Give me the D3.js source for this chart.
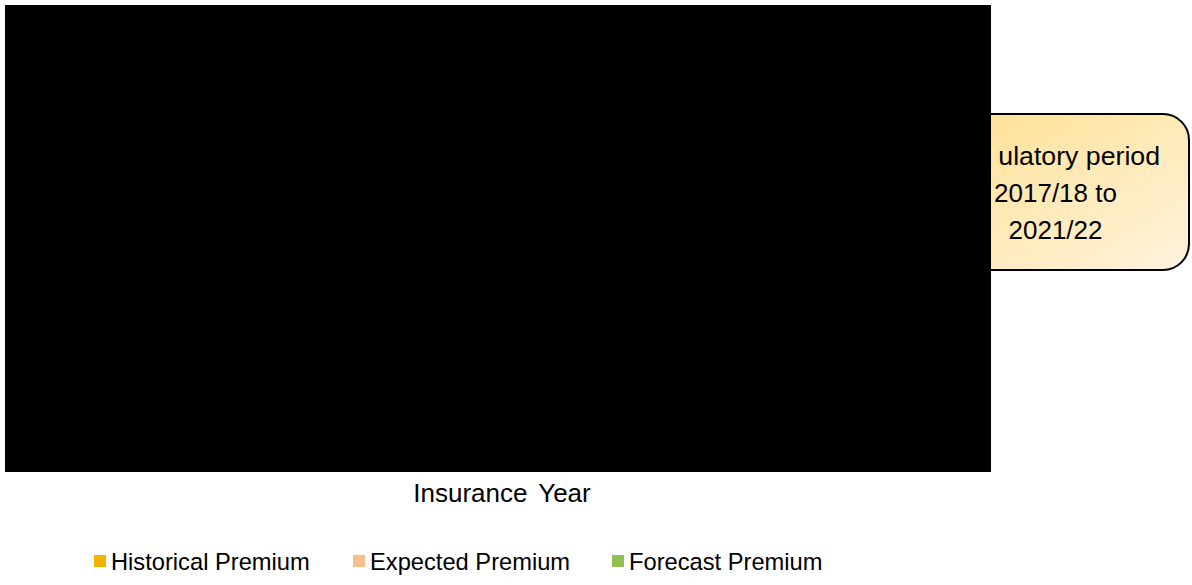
<!DOCTYPE html>
<meta charset="utf-8">
<style>
  body { margin: 0; background: #fff; }
  text { font-family: "Liberation Sans", Arial, sans-serif; fill: #000; }
</style>
<body>
<div id="chart"></div>
<script src="https://d3js.org/d3.v7.min.js"></script>
<script>
  var w = 1192, h = 585;

  // series shown in the legend
  var seriesNames = ["Historical Premium", "Expected Premium", "Forecast Premium"];
  var seriesColors = ["#f0b400", "#fbbf8f", "#92c050"];
  var axisTitle = "Insurance Year";
  var calloutHead = ["Reg", "ulatory period"];
  var calloutLines = ["2017/18 to", "2021/22"];

  var svg = d3.select("#chart").append("svg")
    .attr("width", w)
    .attr("height", h);

  var defs = svg.append("defs");
  var grad = defs.append("linearGradient")
    .attr("id", "calloutFill")
    .attr("x1", "0%").attr("y1", "0%")
    .attr("x2", "100%").attr("y2", "100%");
  grad.append("stop").attr("offset", "0%").attr("stop-color", "#ffdf8f");
  grad.append("stop").attr("offset", "100%").attr("stop-color", "#fff3de");

  // callout (sits behind the plot area)
  var callout = svg.append("g");
  callout.append("rect")
    .attr("x", 921).attr("y", 114)
    .attr("width", 268).attr("height", 156)
    .attr("rx", 26).attr("ry", 26)
    .attr("fill", "url(#calloutFill)")
    .attr("stroke", "#000")
    .attr("stroke-width", 2);

  var head = callout.append("text")
    .attr("x", 1160)
    .attr("y", 165)
    .attr("text-anchor", "end")
    .style("font-size", "26.7px");
  head.selectAll("tspan")
    .data(calloutHead)
    .enter().append("tspan")
    .attr("dx", function (d, i) { return i == 0 ? 0 : 6; })
    .text(function (d) { return d; });

  callout.selectAll("text.line")
    .data(calloutLines)
    .enter().append("text")
    .attr("class", "line")
    .attr("x", 1055.5)
    .attr("y", function (d, i) { return 202 + i * 37; })
    .attr("text-anchor", "middle")
    .style("font-size", "26px")
    .text(function (d) { return d; });

  // plot area
  var plot = { left: 5, top: 5, right: 991, bottom: 472 };
  svg.append("rect")
    .attr("x", plot.left).attr("y", plot.top)
    .attr("width", plot.right - plot.left)
    .attr("height", plot.bottom - plot.top)
    .attr("fill", "#000");

  // axis title
  svg.append("text")
    .attr("x", 502)
    .attr("y", 502)
    .attr("text-anchor", "middle")
    .style("font-size", "26px")
    .style("word-spacing", "4px")
    .text(axisTitle);

  // legend
  var legendX = d3.scalePoint()
    .domain(seriesNames)
    .range([94, 612]);

  var legend = svg.append("g").selectAll("g")
    .data(seriesNames)
    .enter().append("g")
    .attr("transform", function (d) { return "translate(" + legendX(d) + ",555)"; });

  legend.append("rect")
    .attr("width", 12).attr("height", 12)
    .attr("fill", function (d, i) { return seriesColors[i]; });

  legend.append("text")
    .attr("x", 17)
    .attr("y", 15)
    .style("font-size", "23.7px")
    .text(function (d) { return d; });
</script>
</body>
